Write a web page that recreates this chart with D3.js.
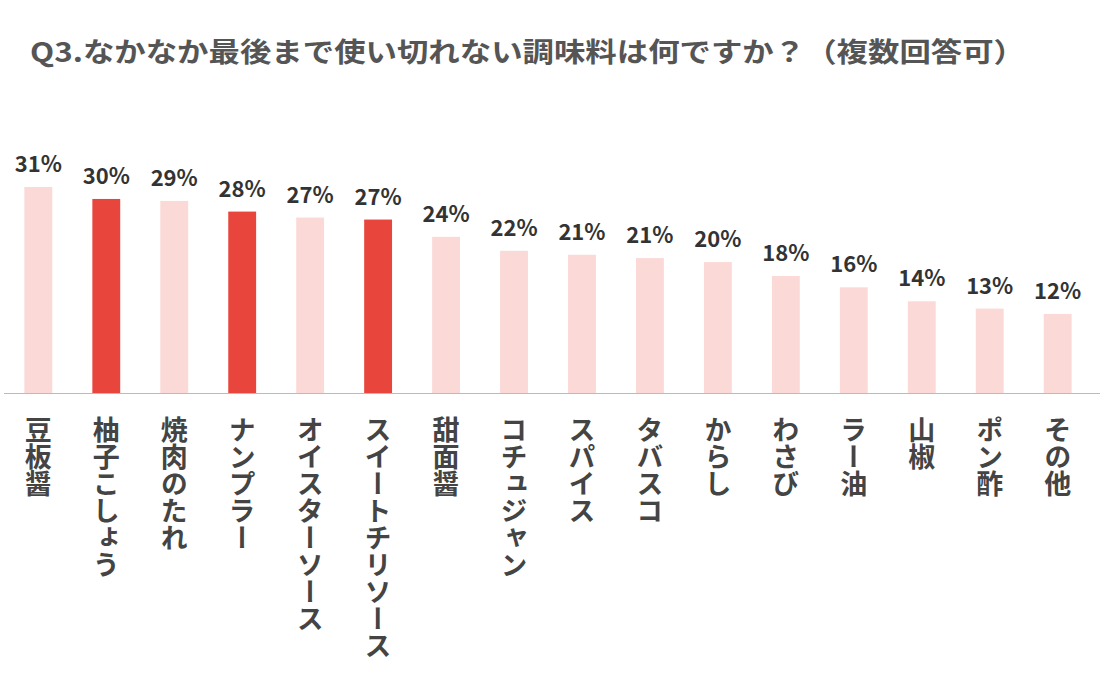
<!DOCTYPE html>
<html><head><meta charset="utf-8">
<script src="https://cdn.jsdelivr.net/npm/d3@7"></script>
<style>body{margin:0;background:#fff;font-family:"Noto Sans CJK JP",sans-serif;}</style>
</head><body>
<script>
var categories = ["豆板醤","柚子こしょう","焼肉のたれ","ナンプラー","オイスターソース","スイートチリソース","甜面醤","コチュジャン","スパイス","タバスコ","からし","わさび","ラー油","山椒","ポン酢","その他"];
var values = [31, 30, 29, 28, 27, 27, 24, 22, 21, 21, 20, 18, 16, 14, 13, 12];
var barValues = [31, 29.2, 28.9, 27.3, 26.4, 26.1, 23.5, 21.4, 20.8, 20.3, 19.7, 17.6, 15.9, 13.8, 12.7, 11.9];
var highlighted = ["柚子こしょう","ナンプラー","スイートチリソース"];

var svg = d3.select("body").append("svg")
    .attr("width", 1107)
    .attr("height", 680);

svg.append("text")
    .text("Q3.なかなか最後まで使い切れない調味料は何ですか？（複数回答可）")
    .attr("x", 30).attr("y", 62)
    .attr("fill", "#555")
    .attr("font-size", 27)
    .attr("font-weight", "bold")
    .attr("textLength", 995)
    .attr("lengthAdjust", "spacingAndGlyphs");

var x = d3.scaleBand().domain(categories).range([4, 1092]).paddingInner(0.59).paddingOuter(0.3);
var y = d3.scaleLinear().domain([0, 31]).range([393, 187]);

svg.selectAll("rect.bar").data(categories).enter().append("rect")
    .attr("x", d => x(d))
    .attr("y", (d, i) => y(barValues[i]))
    .attr("width", x.bandwidth())
    .attr("height", (d, i) => 393 - y(barValues[i]))
    .attr("fill", d => highlighted.includes(d) ? "#e8453c" : "#fbd9d6");

svg.append("line")
    .attr("x1", 4).attr("x2", 1100)
    .attr("y1", 393.5).attr("y2", 393.5)
    .attr("stroke", "#bbb");

svg.selectAll("text.val").data(categories).enter().append("text")
    .attr("x", d => x(d) + x.bandwidth() / 2)
    .attr("y", (d, i) => y(barValues[i]) - 15)
    .attr("text-anchor", "middle")
    .attr("font-size", 22)
    .attr("font-weight", "bold")
    .attr("fill", "#333")
    .text((d, i) => values[i] + "%");

svg.selectAll("text.cat").data(categories).enter().append("text")
    .attr("x", d => x(d) + x.bandwidth() / 2)
    .attr("y", 416)
    .style("writing-mode", "vertical-rl")
    .attr("font-size", 27)
    .attr("font-weight", "bold")
    .attr("fill", "#444")
    .text(d => d);
</script>
</body></html>
